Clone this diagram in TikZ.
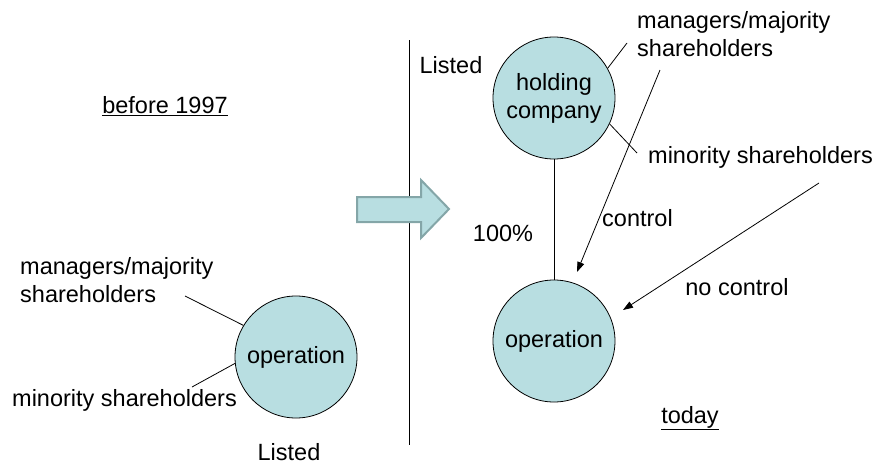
\documentclass[tikz,border=0pt]{standalone}
\usepackage{fontspec}
\setmainfont{Liberation Sans}
\usetikzlibrary{arrows.meta}
\definecolor{cfill}{RGB}{184,222,225}
\definecolor{cborder}{RGB}{132,166,168}
\begin{document}
\begin{tikzpicture}[x=1pt,y=-1pt,
  every node/.style={font=\fontsize{23.5}{28}\selectfont},
  firm/.style={circle,draw=black,line width=0.8pt,fill=cfill,minimum size=122pt,inner sep=0pt,align=center},
  lbl/.style={inner sep=0pt,align=left},
  thin line/.style={line width=0.8pt},
  ctrl/.style={line width=0.8pt,-{Triangle[length=10pt,width=7pt]}}]
\useasboundingbox (0,0) rectangle (879,464);
% divider
\coordinate (dtop) at (409.5,40);
\coordinate (dbot) at (409.5,445);
\draw[thin line] (dtop) -- (dbot);
% block arrow
\draw[line width=2pt,draw=cborder,fill=cfill,line join=miter]
  (357,197) -- (421,197) -- (421,180) -- (449,209) -- (421,238) -- (421,222) -- (357,222) -- cycle;
% left side
\node[lbl] (before) at (165,106) {\underline{before 1997}};
\node[firm] (lop) at (296,357) {operation};
\node[lbl,anchor=west] (lmgr) at (20,280) {managers/majority\\shareholders};
\node[lbl,anchor=west] (lmin) at (12,400) {minority shareholders};
\node[lbl] (llisted) at (289,452) {Listed};
\coordinate (lmgrend) at (185,296);
\coordinate (lminend) at (192,387);
\draw[thin line] (lmgrend) -- (lop.149);
\draw[thin line] (lminend) -- (lop.186);
% right side
\node[lbl] (rlisted) at (451,65) {Listed};
\node[firm] (hold) at (554,98) {holding\\company};
\node[firm] (rop) at (554,341) {operation};
\draw[thin line] (hold) -- (rop);
\node[lbl] (pct) at (503,233) {100\%};
\node[lbl,anchor=west] (rmgr) at (637,34) {managers/majority\\shareholders};
\node[lbl,anchor=west] (rmin) at (648,157) {minority shareholders};
\coordinate (rmgrend) at (627,43);
\coordinate (rminend) at (637,153);
\draw[thin line] (hold.29) -- (rmgrend);
\draw[thin line] (hold.-25) -- (rminend);
\coordinate (c1) at (660,70);
\coordinate (c2) at (577,272);
\draw[ctrl] (c1) -- (c2);
\node[lbl,anchor=west] (ctrltxt) at (602,218) {control};
\coordinate (n1) at (819,183);
\coordinate (n2) at (623,310);
\draw[ctrl] (n1) -- (n2);
\node[lbl] (noctrl) at (737,287) {no control};
\node[lbl] (today) at (690,418) {\underline{today}};
\end{tikzpicture}
\end{document}
